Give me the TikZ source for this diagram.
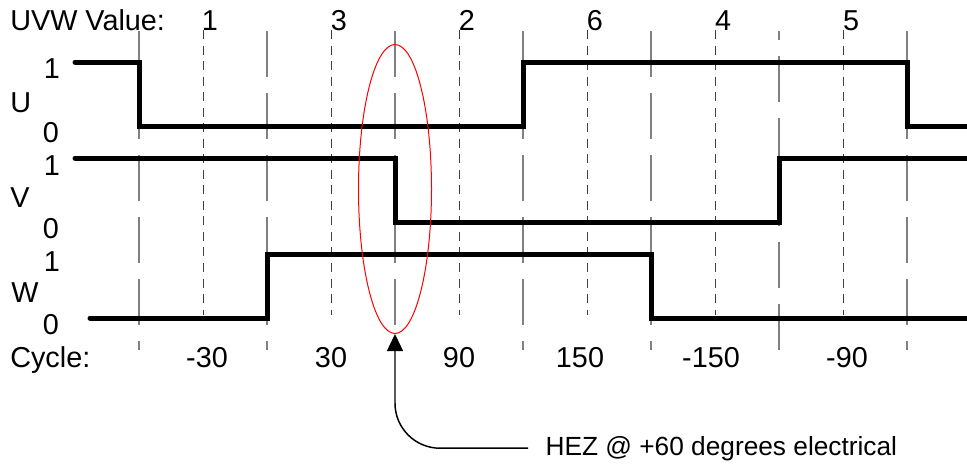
\documentclass[tikz,border=0pt]{standalone}
\usepackage{fontspec}
\setmainfont{Liberation Sans}
\usetikzlibrary{arrows.meta,shapes.geometric}
\tikzset{
  lbl/.style={inner sep=0pt, font=\fontsize{21.6}{25}\selectfont},
  longdash/.style={draw=black!50, line width=1.1pt, dash pattern=on 34.5pt off 12pt},
  shortdash/.style={draw=black!75, line width=0.75pt, dash pattern=on 6.75pt off 4.9pt},
  signal/.style={draw=black, line width=3.75pt, line cap=round, line join=miter},
  hezlbl/.style={inner ysep=0pt, inner xsep=13pt, font=\fontsize{19.7}{23}\selectfont},
}
\begin{document}
\begin{tikzpicture}[x=0.75pt,y=-0.75pt]
\useasboundingbox (0,0) rectangle (967,464);
% grid lines
\foreach \x in {139,267,395,523,651,907} \draw[longdash] (\x,31) -- (\x,350);
\draw[longdash] (779,350) -- (779,31);
\foreach \x in {203,331,459,587,715,843} \draw[shortdash] (\x,30) -- (\x,315);
% signals
\draw[signal] (75,62) -- (139,62) -- (139,126) -- (523,126) -- (523,62) -- (907,62) -- (907,126) -- (967,126);
\draw[signal] (75,158) -- (395,158) -- (395,222) -- (779,222) -- (779,158) -- (967,158);
\draw[signal] (90,318) -- (267,318) -- (267,254) -- (651,254) -- (651,318) -- (967,318);
% header
\node[lbl, anchor=base west] (hdr) at (10,30) {UVW Value:};
\node[lbl, anchor=base] (v1) at (210,30) {1};
\node[lbl, anchor=base] (v3) at (339,30) {3};
\node[lbl, anchor=base] (v2) at (467,30) {2};
\node[lbl, anchor=base] (v6) at (595,30) {6};
\node[lbl, anchor=base] (v4) at (723,30) {4};
\node[lbl, anchor=base] (v5) at (851,30) {5};
% left labels
\node[lbl, anchor=base] (u1) at (52,78) {1};
\node[lbl, anchor=base west] (un) at (10,112) {U};
\node[lbl, anchor=base] (u0) at (51,142) {0};
\node[lbl, anchor=base] (w1a) at (52,175) {1};
\node[lbl, anchor=base west] (vn) at (10,207) {V};
\node[lbl, anchor=base] (v0) at (51,238) {0};
\node[lbl, anchor=base] (x1) at (52,271) {1};
\node[lbl, anchor=base west] (wn) at (11,302) {W};
\node[lbl, anchor=base] (x0) at (51,334) {0};
% cycle row
\node[lbl, anchor=base west] (cyc) at (10,367) {Cycle:};
\node[lbl, anchor=base] (c1) at (207,367) {-30};
\node[lbl, anchor=base] (c2) at (331,367) {30};
\node[lbl, anchor=base] (c3) at (459,367) {90};
\node[lbl, anchor=base] (c4) at (580,367) {150};
\node[lbl, anchor=base] (c5) at (711,367) {-150};
\node[lbl, anchor=base] (c6) at (847,367) {-90};
% ellipse highlight
\node[ellipse, draw=red, line width=0.75pt, minimum width=54.75pt, minimum height=216.75pt, inner sep=0pt] (ell) at (395,189) {};
% annotation
\node[hezlbl, anchor=base west] (hez) at (528,455) {HEZ @ +60 degrees electrical};
\draw[line width=1.1pt, rounded corners=33.75pt, -{Triangle[width=12pt,length=12.75pt]}] (hez.west) -| (ell.south);
\end{tikzpicture}
\end{document}
